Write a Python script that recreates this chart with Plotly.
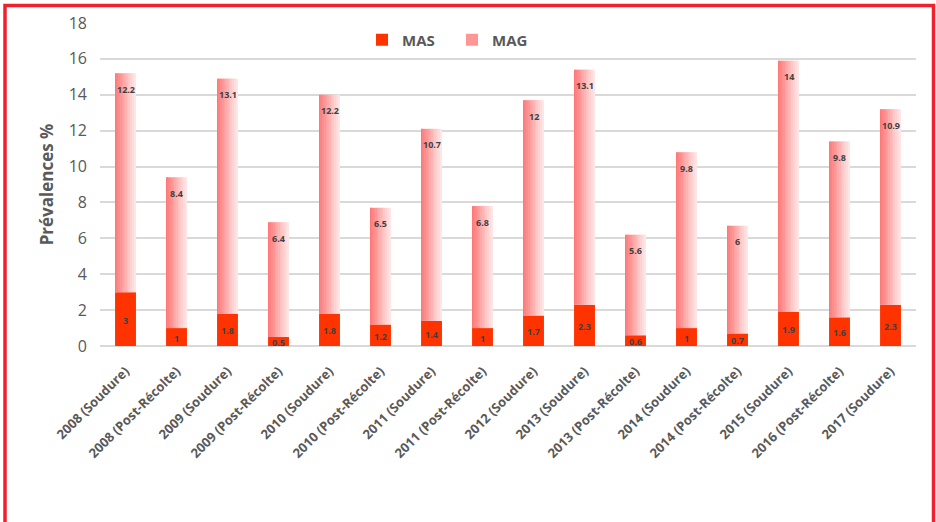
import plotly.graph_objects as go

# Survey rounds and prevalence values (%)
categories = [
    "2008 (Soudure)", "2008 (Post-Récolte)", "2009 (Soudure)", "2009 (Post-Récolte)",
    "2010 (Soudure)", "2010 (Post-Récolte)", "2011 (Soudure)", "2011 (Post-Récolte)",
    "2012 (Soudure)", "2013 (Soudure)", "2013 (Post-Récolte)", "2014 (Soudure)",
    "2014 (Post-Récolte)", "2015 (Soudure)", "2016 (Post-Récolte)", "2017 (Soudure)",
]
mas = [3, 1, 1.8, 0.5, 1.8, 1.2, 1.4, 1, 1.7, 2.3, 0.6, 1, 0.7, 1.9, 1.6, 2.3]
mag = [12.2, 8.4, 13.1, 6.4, 12.2, 6.5, 10.7, 6.8, 12, 13.1, 5.6, 9.8, 6, 14, 9.8, 10.9]
y_ticks = [0, 2, 4, 6, 8, 10, 12, 14, 16, 18]

W, H = 936, 522
L, R, T, B = 100, 20, 23, 176
PW, PH = W - L - R, H - T - B

FONT = "Open Sans"
GREY = "#595959"
BAR_W = 0.41

fig = go.Figure()

# MAS: solid orange-red segment at the base
fig.add_trace(go.Bar(
    x=categories, y=mas, name="MAS",
    width=BAR_W, offset=-BAR_W / 2,
    marker=dict(color="#FF3300", line=dict(width=0)),
    hoverinfo="skip",
))

# MAG: stacked on MAS, drawn as thin vertical slices for a left-to-right pink gradient
n_slices = 12
c0 = (255, 120, 120)
c1 = (255, 230, 230)
for i in range(n_slices):
    t = i / (n_slices - 1)
    col = tuple(round(a + (b - a) * t) for a, b in zip(c0, c1))
    sw = BAR_W / n_slices
    fig.add_trace(go.Bar(
        x=categories, y=mag, base=mas, name="MAG",
        width=sw * 1.05, offset=-BAR_W / 2 + i * sw,
        marker=dict(color="rgb(%d,%d,%d)" % col, line=dict(width=0)),
        legendgroup="MAG", showlegend=(i == 3),
        hoverinfo="skip",
    ))

# Value labels
annotations = []
for c, a, g in zip(categories, mas, mag):
    annotations.append(dict(
        x=c, y=a / 2, xref="x", yref="y", text=f"{a:g}", showarrow=False,
        font=dict(family=FONT, size=9, color="#404040", weight="bold"),
        yanchor="middle", yshift=-1,
    ))
    annotations.append(dict(
        x=c, y=a + g, xref="x", yref="y", text=f"{g:g}", showarrow=False,
        font=dict(family=FONT, size=9, color="#404040", weight="bold"),
        yanchor="middle", yshift=-16,
    ))

# Red frame around the whole chart
shapes = [dict(
    type="rect", xref="paper", yref="paper",
    x0=(5 - L) / PW, x1=(933.5 - L) / PW,
    y0=(H - B - 560) / PH, y1=(H - B - 5.5) / PH,
    line=dict(color="#F0202E", width=3.5), fillcolor="rgba(0,0,0,0)", layer="above",
)]

fig.update_layout(
    width=W, height=H,
    margin=dict(l=L, r=R, t=T, b=B, autoexpand=False),
    paper_bgcolor="white", plot_bgcolor="white",
    barmode="overlay", bargap=0.59,
    font=dict(family=FONT, color=GREY),
    showlegend=True,
    legend=dict(
        orientation="h", x=(362 - L) / PW, y=(H - B - 40) / PH,
        xanchor="left", yanchor="middle",
        font=dict(family=FONT, size=15, color=GREY, weight="bold"),
        bgcolor="rgba(0,0,0,0)", itemwidth=30, tracegroupgap=0,
        entrywidth=45, entrywidthmode="pixels",
    ),
    annotations=annotations,
    shapes=shapes,
    xaxis=dict(
        type="category", categoryorder="array", categoryarray=categories,
        tickangle=-45, showgrid=False, showline=False, ticks="",
        tickfont=dict(family=FONT, size=13, color=GREY, weight="bold"),
        ticklabelstandoff=14, automargin=False,
    ),
    yaxis=dict(
        range=[0, 18], tickvals=y_ticks, showgrid=True,
        gridcolor="#D9D9D9", gridwidth=1.5, zeroline=True,
        zerolinecolor="#D9D9D9", zerolinewidth=1.5, showline=False, ticks="",
        tickfont=dict(family=FONT, size=16, color=GREY),
        ticklabelstandoff=12, automargin=False,
        title=dict(text="Prévalences %",
                   font=dict(family=FONT, size=17, color=GREY, weight="bold"),
                   standoff=10),
    ),
)

fig.write_html("out.html")
